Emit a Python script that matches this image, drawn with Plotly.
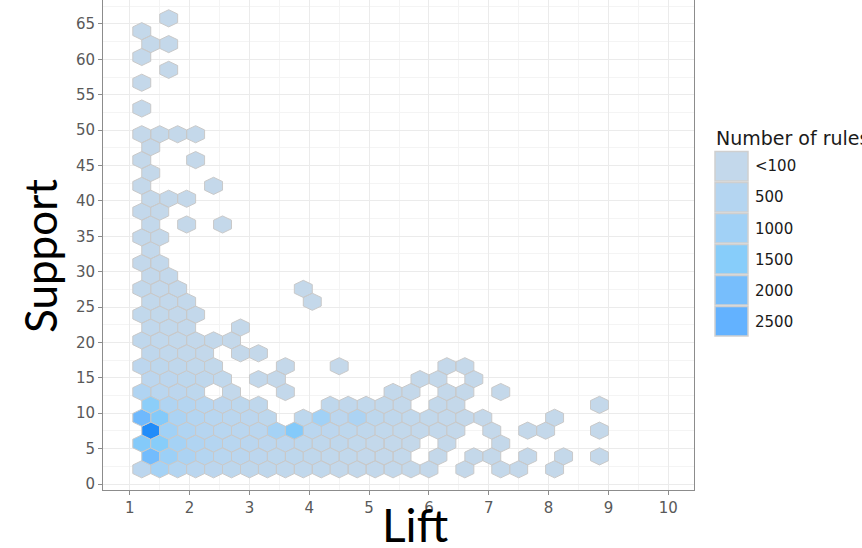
import plotly.graph_objects as go

# ---------------- data: hexbin cells (centre Lift, centre Support, number of rules)
hex_lift = [
    # support 2.08
    1.20, 1.50, 1.80, 2.10, 2.40, 2.70, 3.00, 3.30, 3.60, 3.90, 4.20, 4.50, 4.80, 5.10, 5.40, 5.70, 6.00, 6.60, 7.20, 7.50, 8.10,
    # support 3.90
    1.35, 1.65, 1.95, 2.25, 2.55, 2.85, 3.15, 3.45, 3.75, 4.05, 4.35, 4.65, 4.95, 5.25, 5.55, 6.15, 6.75, 7.05, 7.65, 8.25, 8.85,
    # support 5.72
    1.20, 1.50, 1.80, 2.10, 2.40, 2.70, 3.00, 3.30, 3.60, 3.90, 4.20, 4.50, 4.80, 5.10, 5.40, 5.70, 6.30, 7.20,
    # support 7.54
    1.35, 1.65, 1.95, 2.25, 2.55, 2.85, 3.15, 3.45, 3.75, 4.05, 4.35, 4.65, 4.95, 5.25, 5.55, 5.85, 6.15, 6.45, 7.05, 7.65, 7.95, 8.85,
    # support 9.36
    1.20, 1.50, 1.80, 2.10, 2.40, 2.70, 3.00, 3.30, 3.90, 4.20, 4.50, 4.80, 5.10, 5.40, 5.70, 6.00, 6.30, 6.60, 6.90, 8.10,
    # support 11.18
    1.35, 1.65, 1.95, 2.25, 2.55, 2.85, 3.15, 4.35, 4.65, 4.95, 5.25, 5.55, 6.15, 6.45, 8.85,
    # support 13.00
    1.20, 1.50, 1.80, 2.10, 2.70, 3.60, 5.40, 5.70, 6.30, 6.60, 7.20,
    # support 14.82
    1.35, 1.65, 1.95, 2.25, 2.55, 3.15, 3.45, 5.85, 6.15, 6.75,
    # support 16.64
    1.20, 1.50, 1.80, 2.10, 2.40, 3.60, 4.50, 6.30, 6.60,
    # support 18.47
    1.35, 1.65, 1.95, 2.25, 2.85, 3.15,
    # support 20.29
    1.20, 1.50, 1.80, 2.10, 2.40, 2.70,
    # support 22.11
    1.35, 1.65, 1.95, 2.85,
    # support 23.93
    1.20, 1.50, 1.80, 2.10,
    # support 25.75
    1.35, 1.65, 1.95, 4.05,
    # support 27.57
    1.20, 1.50, 1.80, 3.90,
    # support 29.39
    1.35, 1.65,
    # support 31.21
    1.20, 1.50,
    # support 33.03
    1.35,
    # support 34.85
    1.20, 1.50,
    # support 36.67
    1.35, 1.95, 2.55,
    # support 38.49
    1.20, 1.50,
    # support 40.31
    1.35, 1.65, 1.95,
    # support 42.13
    1.20, 2.40,
    # support 43.95
    1.35,
    # support 45.77
    1.20, 2.10,
    # support 47.60
    1.35,
    # support 49.42
    1.20, 1.50, 1.80, 2.10,
    # support 53.06
    1.20,
    # support 56.70
    1.20,
    # support 58.52
    1.65,
    # support 60.34
    1.20,
    # support 62.16
    1.35, 1.65,
    # support 63.98
    1.20,
    # support 65.80
    1.65,
]

hex_support = (
    [2.08] * 21 + [3.90] * 21 + [5.72] * 18 + [7.54] * 22 + [9.36] * 20 + [11.18] * 15
    + [13.00] * 11 + [14.82] * 10 + [16.64] * 9 + [18.47] * 6 + [20.29] * 6 + [22.11] * 4
    + [23.93] * 4 + [25.75] * 4 + [27.57] * 4 + [29.39] * 2 + [31.21] * 2 + [33.03] * 1
    + [34.85] * 2 + [36.67] * 3 + [38.49] * 2 + [40.31] * 3 + [42.13] * 2 + [43.95] * 1
    + [45.77] * 2 + [47.60] * 1 + [49.42] * 4 + [53.06] * 1 + [56.70] * 1 + [58.52] * 1
    + [60.34] * 1 + [62.16] * 2 + [63.98] * 1 + [65.80] * 1
)

hex_rules = [
    300, 900, 500, 350, 300, 250, 200, 200, 150, 150, 150, 100, 100, 80, 60, 50, 30, 10, 5, 5, 5,
    2100, 1100, 700, 500, 400, 350, 300, 250, 250, 200, 150, 150, 100, 80, 60, 20, 10, 10, 5, 5, 5,
    1600, 1500, 900, 600, 500, 400, 350, 300, 300, 250, 200, 200, 150, 100, 80, 50, 20, 5,
    3400, 1000, 600, 450, 400, 350, 350, 900, 1600, 350, 300, 250, 200, 150, 120, 80, 60, 40, 10, 10, 10, 10,
    2200, 1600, 700, 500, 400, 350, 300, 250, 250, 1000, 300, 700, 250, 200, 150, 120, 80, 50, 20, 10,
    1400, 600, 500, 400, 300, 250, 200, 200, 180, 150, 120, 100, 60, 40, 10,
    600, 350, 300, 250, 100, 80, 60, 50, 40, 30, 10,
    300, 300, 250, 200, 150, 60, 50, 40, 30, 20,
    300, 250, 200, 150, 120, 40, 30, 20, 20,
    200, 150, 120, 100, 30, 20,
    200, 150, 120, 100, 60, 40,
    150, 120, 100, 30,
    150, 120, 100, 60,
    120, 100, 60, 20,
    120, 100, 60, 20,
    100, 60,
    100, 60,
    80,
    80, 40,
    60, 20, 10,
    60, 30,
    50, 30, 20,
    40, 10,
    30,
    30, 10,
    20,
    30, 20, 10, 10,
    10,
    10,
    10,
    10,
    10, 10,
    10,
    10,
]

lift_ticks = [1, 2, 3, 4, 5, 6, 7, 8, 9, 10]
support_ticks = [0, 5, 10, 15, 20, 25, 30, 35, 40, 45, 50, 55, 60, 65]

legend_breaks = [100, 500, 1000, 1500, 2000, 2500]
legend_labels = ["<100", "500", "1000", "1500", "2000", "2500"]

# ---------------- styling
HEX_W = 0.30    # lift bin width
HEX_H = 1.82    # support row spacing
HEX_DX = [0, 0.5, 0.5, 0, -0.5, -0.5, 0]
HEX_DY = [2 / 3, 1 / 3, -1 / 3, -2 / 3, -1 / 3, 1 / 3, 2 / 3]

COLOR_STOPS = [
    (0, (196, 216, 234)),
    (100, (195, 216, 235)),
    (500, (180, 213, 241)),
    (1000, (161, 209, 246)),
    (1500, (135, 205, 250)),
    (2000, (119, 190, 252)),
    (2500, (99, 178, 255)),
    (3500, (26, 136, 248)),
]


def rules_color(n):
    if n <= COLOR_STOPS[0][0]:
        c = COLOR_STOPS[0][1]
    elif n >= COLOR_STOPS[-1][0]:
        c = COLOR_STOPS[-1][1]
    else:
        for (a, ca), (b, cb) in zip(COLOR_STOPS[:-1], COLOR_STOPS[1:]):
            if a <= n <= b:
                t = (n - a) / (b - a)
                c = tuple(ca[i] + (cb[i] - ca[i]) * t for i in range(3))
                break
    return "rgb(%d,%d,%d)" % tuple(round(v) for v in c)


X_RANGE = [0.552, 10.430]
Y_RANGE = [-0.848, 68.39]
W, H = 862, 548
ML, MR, MT, MB = 103, 168, 0, 58
PW, PH = W - ML - MR, H - MT - MB


def px(x):
    return (x - ML) / PW


def py(y):
    return (H - MB - y) / PH


fig = go.Figure()

groups = {}
for x, y, n in zip(hex_lift, hex_support, hex_rules):
    col = rules_color(n)
    xs, ys = groups.setdefault(col, ([], []))
    for dx, dy in zip(HEX_DX, HEX_DY):
        xs.append(x + dx * HEX_W)
        ys.append(y + dy * HEX_H)
    xs.append(None)
    ys.append(None)

for col, (xs, ys) in groups.items():
    fig.add_trace(go.Scatter(
        x=xs, y=ys, mode="lines", fill="toself", fillcolor=col,
        line=dict(color="#C9C9C9", width=1), hoverinfo="skip", showlegend=False,
    ))

# ---------------- legend (drawn manually, ggplot style)
key_top = [151.5, 182.5, 213.5, 244.5, 275.5, 306.5]
shapes = []
annotations = []
for top, brk, lab in zip(key_top, legend_breaks, legend_labels):
    shapes.append(dict(
        type="rect", xref="paper", yref="paper",
        x0=px(715), x1=px(748), y0=py(top), y1=py(top + 29.5),
        fillcolor=rules_color(brk), line=dict(color="#CFCFCF", width=1.5), layer="above",
    ))
    annotations.append(dict(
        text=lab, xref="paper", yref="paper", x=px(753), y=py(top + 15),
        xanchor="left", yanchor="middle", showarrow=False,
        font=dict(family="DejaVu Sans", size=15, color="#1A1A1A"),
    ))
annotations.append(dict(
    text="Number of rules", xref="paper", yref="paper", x=px(714), y=py(138),
    xanchor="left", yanchor="middle", showarrow=False,
    font=dict(family="DejaVu Sans", size=19, color="#1A1A1A"),
))
annotations.append(dict(
    text="Support", xref="paper", yref="paper", x=px(40), y=py(256),
    xanchor="center", yanchor="middle", showarrow=False, textangle=-90,
    font=dict(family="Lato", size=44, color="#000000"),
))
annotations.append(dict(
    text="Lift", xref="paper", yref="paper", x=px(415), y=py(524),
    xanchor="center", yanchor="middle", showarrow=False,
    font=dict(family="Lato", size=46, color="#000000"),
))

axis_common = dict(
    showgrid=True, gridcolor="#EBEBEB", gridwidth=1.3,
    zeroline=False, showline=True, linecolor="#8C8C8C", linewidth=1,
    ticks="outside", ticklen=4, tickwidth=1, tickcolor="#8C8C8C",
    tickfont=dict(family="DejaVu Sans", size=15, color="#595959"),
)

fig.update_layout(
    width=W, height=H,
    margin=dict(l=ML, r=MR, t=MT, b=MB),
    paper_bgcolor="white", plot_bgcolor="white",
    xaxis=dict(
        range=X_RANGE, tickmode="array", tickvals=lift_ticks,
        ticktext=[str(v) for v in lift_ticks], mirror=False,
        minor=dict(dtick=0.5, tick0=0.5, showgrid=True, gridcolor="#F4F4F4", gridwidth=1),
        **axis_common,
    ),
    yaxis=dict(
        range=Y_RANGE, tickmode="array", tickvals=support_ticks,
        ticktext=[str(v) for v in support_ticks], mirror=True,
        minor=dict(dtick=2.5, tick0=2.5, showgrid=True, gridcolor="#F4F4F4", gridwidth=1),
        **axis_common,
    ),
    shapes=shapes,
    annotations=annotations,
    showlegend=False,
)

# remove the default 8px page margin so the figure sits at the window's top-left corner
fig.write_html(
    "out.html",
    config={"displayModeBar": False},
    post_script="document.body.style.margin='0';document.body.style.overflow='hidden';",
)
